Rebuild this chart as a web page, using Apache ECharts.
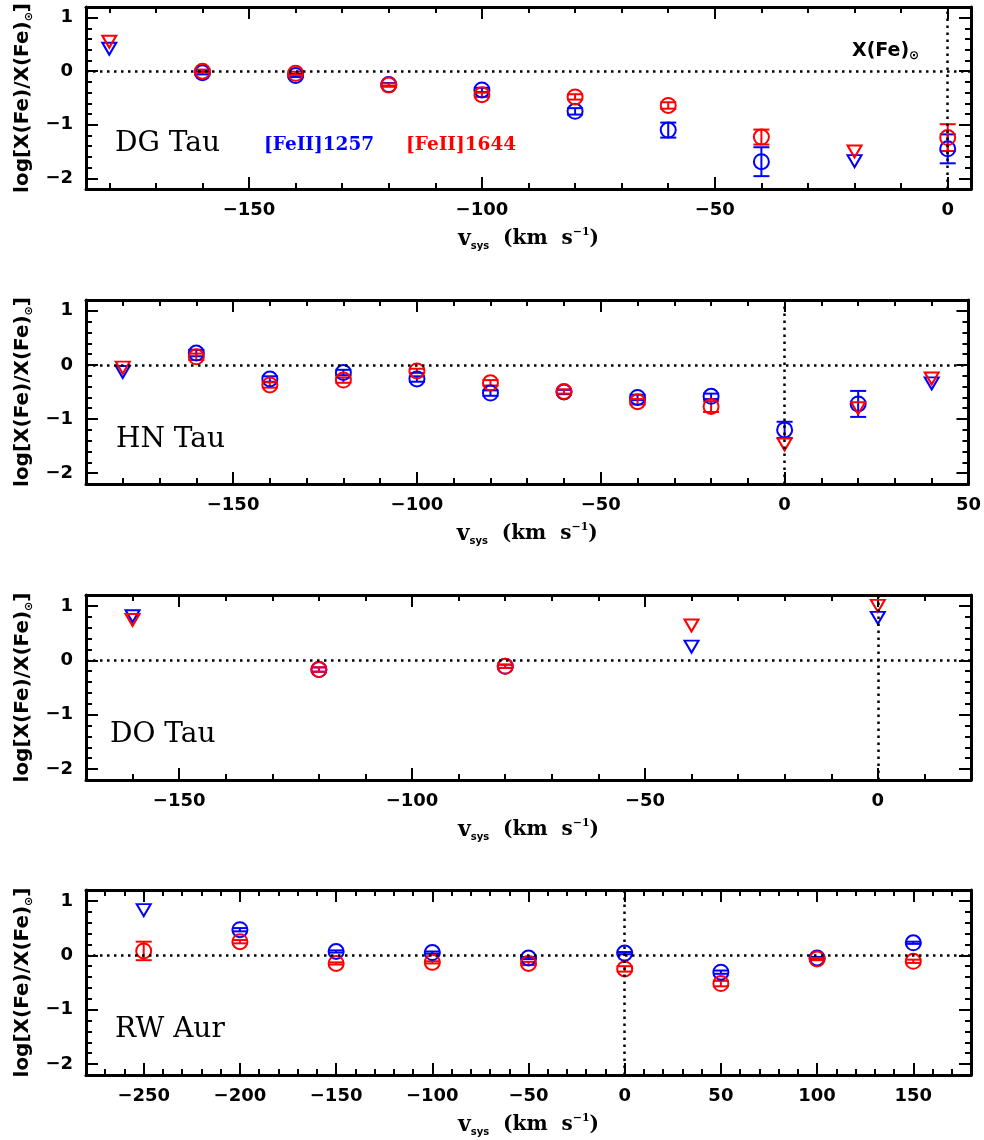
<!DOCTYPE html>
<html><head><meta charset="utf-8">
<script src="https://cdn.jsdelivr.net/npm/echarts@6/dist/echarts.min.js"></script>
<style>html,body{margin:0;padding:0;background:#fff}#c{width:984px;height:1140px}</style>
</head><body><div id="c"></div>
<script>
// ---------- panels ----------
const panelNames = ['DG Tau', 'HN Tau', 'DO Tau', 'RW Aur'];
const xRanges = [[-185, 5], [-190, 50], [-170, 20], [-280, 180]];
const xMajorTicks = [
  [-150, -100, -50, 0],
  [-150, -100, -50, 0, 50],
  [-150, -100, -50, 0],
  [-250, -200, -150, -100, -50, 0, 50, 100, 150]
];
const yRange = [-2.2, 1.2];
const yMajorTicks = [-2, -1, 0, 1];
const yMinorTicks = [-1.8, -1.6, -1.4, -1.2, -0.8, -0.6, -0.4, -0.2, 0.2, 0.4, 0.6, 0.8];

// ---------- data: [v_sys, log ratio, error] ----------
// DG Tau
const dgBlueDet = [[-160, -0.03, 0.03], [-140, -0.08, 0.03], [-120, -0.25, 0.03], [-100, -0.35, 0.04], [-80, -0.75, 0.06], [-60, -1.10, 0.14], [-40, -1.69, 0.27], [0, -1.45, 0.27]];
const dgRedDet  = [[-160, 0.00, 0.03], [-140, -0.04, 0.03], [-120, -0.26, 0.03], [-100, -0.44, 0.04], [-80, -0.48, 0.05], [-60, -0.64, 0.06], [-40, -1.23, 0.14], [0, -1.24, 0.25]];
const dgBlueLim = [[-180, 0.42], [-20, -1.68]];
const dgRedLim  = [[-180, 0.55], [-20, -1.50]];
// HN Tau
const hnBlueDet = [[-160, 0.22, 0.06], [-140, -0.26, 0.05], [-120, -0.14, 0.05], [-100, -0.26, 0.05], [-80, -0.52, 0.05], [-60, -0.50, 0.04], [-40, -0.60, 0.05], [-20, -0.58, 0.05], [0, -1.20, 0.15], [20, -0.72, 0.24]];
const hnRedDet  = [[-160, 0.15, 0.06], [-140, -0.37, 0.05], [-120, -0.28, 0.05], [-100, -0.11, 0.04], [-80, -0.33, 0.05], [-60, -0.49, 0.04], [-40, -0.68, 0.05], [-20, -0.77, 0.10]];
const hnBlueLim = [[-180, -0.13], [40, -0.34]];
const hnRedLim  = [[-180, -0.05], [0, -1.47], [20, -0.80], [40, -0.25]];
// DO Tau
const doBlueDet = [[-120, -0.17, 0.04], [-80, -0.11, 0.03]];
const doRedDet  = [[-120, -0.17, 0.04], [-80, -0.11, 0.03]];
const doBlueLim = [[-160, 0.81], [-40, 0.25], [0, 0.78]];
const doRedLim  = [[-160, 0.74], [-40, 0.64], [0, 1.00]];
// RW Aur
const rwBlueDet = [[-200, 0.47, 0.03], [-150, 0.07, 0.02], [-100, 0.05, 0.02], [-50, -0.05, 0.02], [0, 0.04, 0.02], [50, -0.31, 0.03], [100, -0.05, 0.02], [150, 0.23, 0.02]];
const rwRedDet  = [[-250, 0.08, 0.17], [-200, 0.25, 0.03], [-150, -0.15, 0.02], [-100, -0.13, 0.02], [-50, -0.15, 0.03], [0, -0.25, 0.05], [50, -0.52, 0.05], [100, -0.07, 0.02], [150, -0.11, 0.03]];
const rwBlueLim = [[-250, 0.83]];
const rwRedLim  = [];

const panelData = [
  {blueDet: dgBlueDet, redDet: dgRedDet, blueLim: dgBlueLim, redLim: dgRedLim},
  {blueDet: hnBlueDet, redDet: hnRedDet, blueLim: hnBlueLim, redLim: hnRedLim},
  {blueDet: doBlueDet, redDet: doRedDet, blueLim: doBlueLim, redLim: doRedLim},
  {blueDet: rwBlueDet, redDet: rwRedDet, blueLim: rwBlueLim, redLim: rwRedLim}
];

// ---------- layout ----------
const gridTops = [4, 300, 595, 890];
const gridHeights = [185, 184, 185, 185];
const gridLeft = 86, gridRight = 13;
const BLUE = '#0000ff', RED = '#ff0000';
const tickFont = '"DejaVu Sans", sans-serif';
const serifFont = '"DejaVu Serif", serif';

function fmt(v) { return v < 0 ? '\u2212' + Math.abs(v) : String(v); }
function minorX(r) { const out = []; for (let v = Math.ceil(r[0] / 10) * 10; v <= r[1]; v += 10) out.push(v); return out; }

function errRender(color) {
  return function (params, api) {
    const x = api.value(0), y = api.value(1), e = api.value(2);
    const t = api.coord([x, y + e]), b = api.coord([x, y - e]);
    const hw = 8;
    const st = {stroke: color, lineWidth: 2, fill: null};
    return {type: 'group', children: [
      {type: 'line', shape: {x1: t[0], y1: t[1], x2: b[0], y2: b[1]}, style: st},
      {type: 'line', shape: {x1: t[0] - hw, y1: t[1], x2: t[0] + hw, y2: t[1]}, style: st},
      {type: 'line', shape: {x1: b[0] - hw, y1: b[1], x2: b[0] + hw, y2: b[1]}, style: st}
    ]};
  };
}

const grids = [], xAxes = [], yAxes = [], series = [];
const lineSt = {color: '#000', width: 3};
const tickSt = {color: '#000', width: 2};

panelNames.forEach((nm, i) => {
  grids.push({left: gridLeft, right: gridRight, top: gridTops[i], height: gridHeights[i]});
  const xr = xRanges[i];
  const xi = xAxes.length, yi = yAxes.length;
  const baseX = {gridIndex: i, type: 'value', min: xr[0], max: xr[1], splitLine: {show: false}};
  const baseY = {gridIndex: i, type: 'value', min: yRange[0], max: yRange[1], splitLine: {show: false}};
  xAxes.push(Object.assign({}, baseX, {
    position: 'bottom',
    axisLine: {show: true, onZero: false, lineStyle: lineSt},
    axisTick: {show: true, inside: true, length: 12, lineStyle: tickSt, customValues: xMajorTicks[i]},
    axisLabel: {show: true, customValues: xMajorTicks[i], formatter: fmt, margin: 12,
      fontFamily: tickFont, fontSize: 18, fontWeight: 'bold', color: '#000'},
    name: '{v|v}{s|sys}{t|  (km  s}{p|\u22121}{t|)}',
    nameLocation: 'middle', nameGap: 38,
    nameTextStyle: {color: '#000', rich: {
      v: {fontFamily: serifFont, fontWeight: 'bold', fontSize: 22, lineHeight: 24, color: '#000'},
      s: {fontFamily: tickFont, fontWeight: 'bold', fontSize: 10, lineHeight: 8, verticalAlign: 'bottom', color: '#000'},
      t: {fontFamily: serifFont, fontWeight: 'bold', fontSize: 20, lineHeight: 24, color: '#000'},
      p: {fontFamily: serifFont, fontWeight: 'bold', fontSize: 11, lineHeight: 11, verticalAlign: 'top', color: '#000'}
    }}
  }));
  xAxes.push(Object.assign({}, baseX, {
    position: 'bottom', axisLine: {show: false, onZero: false},
    axisTick: {show: true, inside: true, length: 6, lineStyle: tickSt, customValues: minorX(xr)},
    axisLabel: {show: false}
  }));
  xAxes.push(Object.assign({}, baseX, {
    position: 'top', axisLine: {show: true, onZero: false, lineStyle: lineSt},
    axisTick: {show: true, inside: true, length: 12, lineStyle: tickSt, customValues: xMajorTicks[i]},
    axisLabel: {show: false}
  }));
  xAxes.push(Object.assign({}, baseX, {
    position: 'top', axisLine: {show: false, onZero: false},
    axisTick: {show: true, inside: true, length: 6, lineStyle: tickSt, customValues: minorX(xr)},
    axisLabel: {show: false}
  }));
  yAxes.push(Object.assign({}, baseY, {
    position: 'left',
    axisLine: {show: true, onZero: false, lineStyle: lineSt},
    axisTick: {show: true, inside: true, length: 12, lineStyle: tickSt, customValues: yMajorTicks},
    axisLabel: {show: true, customValues: yMajorTicks, formatter: fmt, margin: 13,
      fontFamily: tickFont, fontSize: 18, fontWeight: 'bold', color: '#000'},
    name: '{a|log[X(Fe)/X(Fe)}{s|\u2299}{a|]}',
    nameLocation: 'middle', nameGap: 50,
    nameTextStyle: {color: '#000', rich: {
      a: {fontFamily: tickFont, fontWeight: 'bold', fontSize: 20, lineHeight: 24, color: '#000'},
      s: {fontFamily: tickFont, fontWeight: 'bold', fontSize: 11, lineHeight: 11, verticalAlign: 'bottom', color: '#000'}
    }}
  }));
  yAxes.push(Object.assign({}, baseY, {
    position: 'left', axisLine: {show: false, onZero: false},
    axisTick: {show: true, inside: true, length: 6, lineStyle: tickSt, customValues: yMinorTicks},
    axisLabel: {show: false}
  }));
  yAxes.push(Object.assign({}, baseY, {
    position: 'right', axisLine: {show: true, onZero: false, lineStyle: lineSt},
    axisTick: {show: true, inside: true, length: 12, lineStyle: tickSt, customValues: yMajorTicks},
    axisLabel: {show: false}
  }));
  yAxes.push(Object.assign({}, baseY, {
    position: 'right', axisLine: {show: false, onZero: false},
    axisTick: {show: true, inside: true, length: 6, lineStyle: tickSt, customValues: yMinorTicks},
    axisLabel: {show: false}
  }));

  const d = panelData[i];
  const ax = {xAxisIndex: xi, yAxisIndex: yi};
  series.push(Object.assign({
    type: 'scatter', data: [], silent: true,
    markLine: {symbol: 'none', silent: true, animation: false, label: {show: false},
      lineStyle: {color: '#000', width: 2.5, type: [2.5, 4.5]},
      data: [{yAxis: 0}, {xAxis: 0}]}
  }, ax));
  const addSet = (det, lim, color) => {
    series.push(Object.assign({type: 'custom', renderItem: errRender(color), data: det,
      encode: {x: 0, y: 1}, silent: true, z: 3}, ax));
    series.push(Object.assign({type: 'scatter', data: det.map(p => [p[0], p[1]]), symbol: 'circle', symbolSize: 15,
      itemStyle: {color: 'rgba(0,0,0,0)', borderColor: color, borderWidth: 2, opacity: 1}, silent: true, z: 3}, ax));
    series.push(Object.assign({type: 'scatter', data: lim, symbol: 'triangle', symbolRotate: 180, symbolSize: [14, 12],
      itemStyle: {color: 'rgba(0,0,0,0)', borderColor: color, borderWidth: 2, opacity: 1}, silent: true, z: 3}, ax));
  };
  addSet(d.blueDet, d.blueLim, BLUE);
  addSet(d.redDet, d.redLim, RED);
});

// ---------- annotations ----------
const graphics = [];
const nameX = [115, 116, 110, 115];
panelNames.forEach((nm, i) => {
  graphics.push({type: 'text', x: nameX[i], y: gridTops[i] + 140,
    style: {text: nm, font: '28px "DejaVu Serif", serif', fill: '#000', verticalAlign: 'middle'}});
});
graphics.push({type: 'text', x: 264, y: 145,
  style: {text: '[FeII]1257', font: 'bold 18.5px "DejaVu Serif", serif', fill: BLUE, verticalAlign: 'middle'}});
graphics.push({type: 'text', x: 406, y: 145,
  style: {text: '[FeII]1644', font: 'bold 18.5px "DejaVu Serif", serif', fill: RED, verticalAlign: 'middle'}});
graphics.push({type: 'text', x: 852, y: 51,
  style: {text: '{a|X(Fe)}{b|\u2299}', verticalAlign: 'middle', fill: '#000',
    rich: {a: {fontFamily: tickFont, fontWeight: 'bold', fontSize: 19, lineHeight: 22, fill: '#000'},
           b: {fontFamily: tickFont, fontWeight: 'bold', fontSize: 12, lineHeight: 10, verticalAlign: 'bottom', fill: '#000'}}}});

const chart = echarts.init(document.getElementById('c'), null, {renderer: 'canvas'});
chart.setOption({
  animation: false,
  backgroundColor: '#fff',
  grid: grids, xAxis: xAxes, yAxis: yAxes, series: series, graphic: graphics
});
</script></body></html>
